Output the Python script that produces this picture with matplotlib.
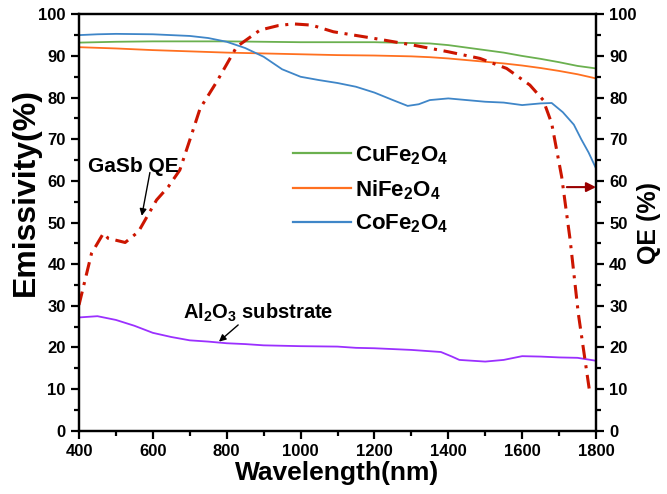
import matplotlib
matplotlib.use("Agg")
import matplotlib.pyplot as plt
from matplotlib.lines import Line2D

plt.rcParams['font.family'] = ['Liberation Sans', 'DejaVu Sans']
plt.rcParams['font.weight'] = 'bold'
plt.rcParams['mathtext.default'] = 'regular'

# ---------------- data ----------------
wl_ems = [400, 500, 600, 700, 800, 900, 1000, 1100, 1200, 1300, 1350, 1400,
          1450, 1500, 1550, 1600, 1650, 1700, 1750, 1800]
cufe = [93.2, 93.4, 93.5, 93.5, 93.5, 93.4, 93.3, 93.3, 93.3, 93.1, 93.0, 92.6,
        92.0, 91.4, 90.8, 90.0, 89.3, 88.5, 87.6, 87.0]
nife = [92.1, 91.8, 91.4, 91.1, 90.8, 90.6, 90.4, 90.2, 90.1, 89.9, 89.7, 89.4,
        89.0, 88.6, 88.2, 87.7, 87.1, 86.4, 85.6, 84.6]

wl_co = [400, 450, 500, 600, 700, 750, 800, 850, 900, 950, 1000, 1050, 1100,
         1150, 1200, 1250, 1290, 1320, 1350, 1400, 1450, 1500, 1550, 1600,
         1650, 1680, 1710, 1740, 1760, 1780, 1800]
cofe = [95.0, 95.2, 95.3, 95.2, 94.8, 94.3, 93.4, 91.9, 89.8, 86.8, 85.0, 84.2,
        83.5, 82.6, 81.2, 79.4, 78.0, 78.4, 79.4, 79.8, 79.4, 79.0, 78.8, 78.2,
        78.6, 78.7, 76.5, 73.5, 70.0, 66.8, 63.0]

wl_al = [400, 450, 500, 550, 600, 650, 700, 750, 800, 850, 900, 1000, 1100,
         1150, 1200, 1300, 1380, 1410, 1430, 1500, 1550, 1600, 1650, 1700,
         1750, 1800]
al2o3 = [27.2, 27.5, 26.6, 25.2, 23.5, 22.5, 21.7, 21.4, 21.0, 20.8, 20.5, 20.3,
         20.2, 19.9, 19.8, 19.4, 18.9, 17.8, 17.0, 16.6, 17.0, 17.9, 17.8, 17.6,
         17.5, 16.8]

wl_qe = [400, 434, 466, 479, 525, 561, 610, 642, 673, 700, 728, 773, 827, 890,
         940, 980, 1030, 1089, 1200, 1305, 1400, 1486, 1558, 1621, 1657, 1680,
         1707, 1730, 1752, 1782]
qe = [30.2, 42.6, 47.4, 46.2, 45.2, 47.8, 55.4, 58.6, 62.6, 69.8, 77.4, 83.8,
      92.2, 96.2, 97.3, 97.7, 97.4, 95.8, 94.2, 92.6, 91.0, 89.4, 87.0, 83.0,
      79.4, 73.8, 61.0, 45.8, 28.2, 9.8]

labels = ['CuFe$_2$O$_4$', 'NiFe$_2$O$_4$', 'CoFe$_2$O$_4$']
colors = ['#6BB04F', '#FF7020', '#3F86C8']
c_al = '#9B30FF'
c_qe = '#CC1500'

# ---------------- figure ----------------
fig = plt.figure(figsize=(6.67, 4.94), dpi=100)
ax = fig.add_axes([79 / 667, 1 - 430.7 / 494, 517 / 667, 416.4 / 494])
ax2 = ax.twinx()

ax.plot(wl_ems, cufe, color=colors[0], lw=1.3)
ax.plot(wl_ems, nife, color=colors[1], lw=1.3)
ax.plot(wl_co, cofe, color=colors[2], lw=1.3)
ax.plot(wl_al, al2o3, color=c_al, lw=1.3)
ax2.plot(wl_qe, qe, color=c_qe, lw=2.2, dashes=[4.5, 2.2, 1.0, 2.2])

for a in (ax, ax2):
    a.set_xlim(400, 1800)
    a.set_ylim(0, 100)
    for s in a.spines.values():
        s.set_linewidth(1.6)

ax.set_xticks(range(400, 1801, 200))
ax.set_xticks(range(500, 1800, 200), minor=True)
ax.set_yticks(range(0, 101, 10))
ax.set_yticks(range(5, 100, 10), minor=True)
ax2.set_yticks(range(0, 101, 10))
ax2.set_yticks(range(5, 100, 10), minor=True)

ax.tick_params(axis='both', which='major', direction='out', length=6, width=1.6,
               labelsize=12)
ax.tick_params(axis='both', which='minor', direction='out', length=3.5, width=1.6)
ax.tick_params(axis='x', top=False, which='both')
ax2.tick_params(axis='y', which='major', direction='out', length=6, width=1.6,
                labelsize=12)
ax2.tick_params(axis='y', which='minor', direction='out', length=3.5, width=1.6)

ax.set_xlabel('Wavelength(nm)', fontsize=19, fontweight='bold', labelpad=1.5)
ax.set_ylabel('Emissivity(%)', fontsize=23, fontweight='bold')
ax.yaxis.set_label_coords(-0.074, 0.573)
ax2.set_ylabel('QE (%)', fontsize=18, fontweight='bold', labelpad=0)

handles = [Line2D([], [], color=c, lw=1.6) for c in colors]
ax.legend(handles, labels, loc='upper left', bbox_to_anchor=(0.414, 0.688),
          frameon=False, handlelength=2.6, handletextpad=0.2,
          labelspacing=0.5, borderpad=0, borderaxespad=0,
          prop={'weight': 'bold', 'size': 16})

# annotations
ax2.text(424, 62.2, 'GaSb QE', fontsize=15, fontweight='bold',
         ha='left', va='baseline')
ax2.annotate('', xy=(570, 51.6), xytext=(592, 62.0),
             arrowprops=dict(arrowstyle='-|>', color='black', lw=1.0,
                             shrinkA=0, shrinkB=0, mutation_scale=10))
ax2.text(682, 26.9, 'Al$_2$O$_3$ substrate', fontsize=14.5, fontweight='bold',
         ha='left', va='baseline')
ax2.annotate('', xy=(779, 21.4), xytext=(831, 25.4),
             arrowprops=dict(arrowstyle='-|>', color='black', lw=1.0,
                             shrinkA=0, shrinkB=0, mutation_scale=10))
ax2.annotate('', xy=(1800, 58.5), xytext=(1721, 58.5),
             arrowprops=dict(arrowstyle='-|>', color='#990000', lw=1.5,
                             shrinkA=0, shrinkB=0, mutation_scale=14))

fig.savefig('out.png', dpi=100)
